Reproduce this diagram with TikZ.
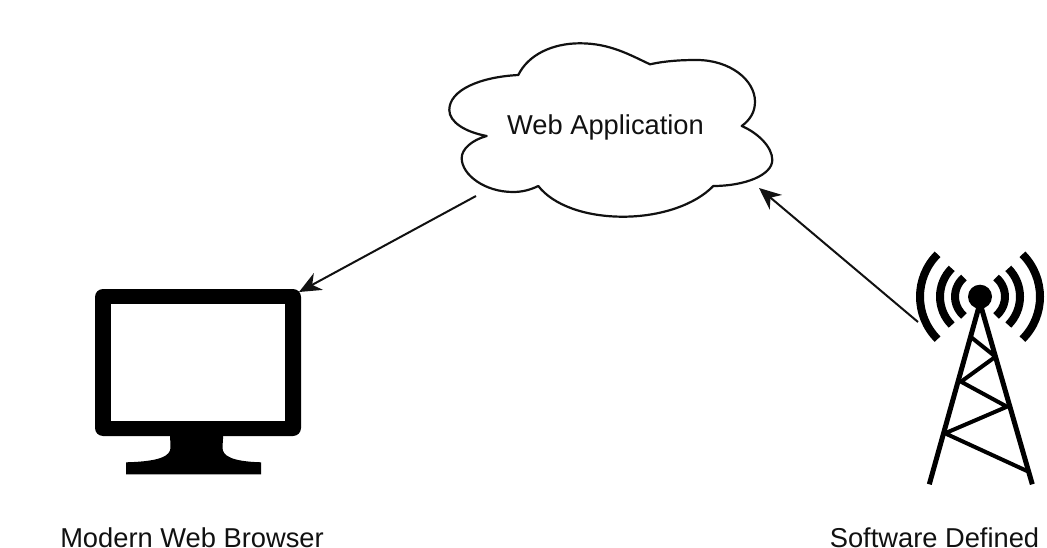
\documentclass[tikz,border=0pt]{standalone}
\usepackage{fontspec}
\setmainfont{Liberation Sans}
\usetikzlibrary{arrows.meta}
\definecolor{ink}{HTML}{111111}
\tikzset{
  label text/.style={inner sep=0pt,text=ink,font=\fontsize{27.3}{32}\selectfont},
  cloud line/.style={draw=ink,line width=2.2pt,line join=round},
  conn/.style={draw=ink,line width=2pt,-{Stealth[length=22pt,width=19pt,inset=7pt]}},
  tower bar/.style={draw=black,line width=5pt,line cap=butt,line join=miter},
  wave/.style={draw=black,line width=8pt,line cap=butt},
}
\begin{document}
\begin{tikzpicture}[x=1pt,y=-1pt]
\useasboundingbox (0,0) rectangle (1047,548);
\clip (0,0) rectangle (1047,548);
\fill[white] (0,0) rectangle (1047,548);
% cloud
\path[cloud line,fill=white] (486.7,136)
 .. controls (465,132) and (449.3,122) .. (449.3,110)
 .. controls (449.3,90) and (480,77) .. (518.3,75)
 .. controls (528,55) and (552,43.3) .. (580,43.3)
 .. controls (610,43.3) and (630,55) .. (650,64.3)
 .. controls (665,61) and (680,60) .. (696.7,60)
 .. controls (730,60) and (755,80) .. (755,101.7)
 .. controls (755,112) and (750,120) .. (741.7,126)
 .. controls (758,133) and (772.3,147) .. (772.3,160)
 .. controls (772.3,175) and (745,186) .. (713.3,186)
 .. controls (695,205) and (660,216.7) .. (623,216.7)
 .. controls (585,216.7) and (553,205) .. (538.3,186)
 .. controls (530,190) and (522,192) .. (513,192)
 .. controls (485,192) and (461.7,175) .. (461.7,158)
 .. controls (461.7,149) and (472,140) .. (486.7,136) -- cycle;
\node[label text] (webapp) at (605.5,127.5) {Web Application};
% monitor
\fill[black,rounded corners=8pt] (95,289) rectangle (301,436);
\fill[white] (110.7,304.3) rectangle (285,421);
\fill[black] (170,434) -- (223.3,434) -- (222.5,447)
 .. controls (222,456) and (232,461.5) .. (261,462.3)
 -- (261,474.3) -- (126,474.3) -- (126,462.3)
 .. controls (160,461.5) and (171,456) .. (170.5,447) -- cycle;
% tower
\coordinate (apex) at (980,303);
\draw[tower bar] (929.3,484.3) -- (apex) -- (1032.3,484.3);
\draw[draw=black,line width=4pt,line join=round,line cap=round] (970.5,336.7) -- (995.5,356.7) -- (961,381.7) -- (1007,406.7) -- (945,433.3) -- (1027,471);
\fill[black] (980,296.7) circle (12);
\foreach \r/\a in {25/50,40/45,60/45}{
  \draw[wave] ({980-\r*cos(\a)},{296.7-\r*sin(\a)}) arc[start angle=180+\a,end angle=180-\a,radius=\r];
  \draw[wave] ({980+\r*cos(\a)},{296.7-\r*sin(\a)}) arc[start angle=-\a,end angle=\a,radius=\r];
}
% connectors
\coordinate (cloudfoot) at (476,196);
\coordinate (screencorner) at (299,292);
\coordinate (towerwave) at (918,322);
\coordinate (cloudside) at (759,188);
\draw[conn] (cloudfoot) -- (screencorner);
\draw[conn] (towerwave) -- (cloudside);
% labels
\node[label text,anchor=base] (browser) at (192,547) {Modern Web Browser};
\node[label text,anchor=base] (sdr) at (934.5,547) {Software Defined};
\end{tikzpicture}
\end{document}
